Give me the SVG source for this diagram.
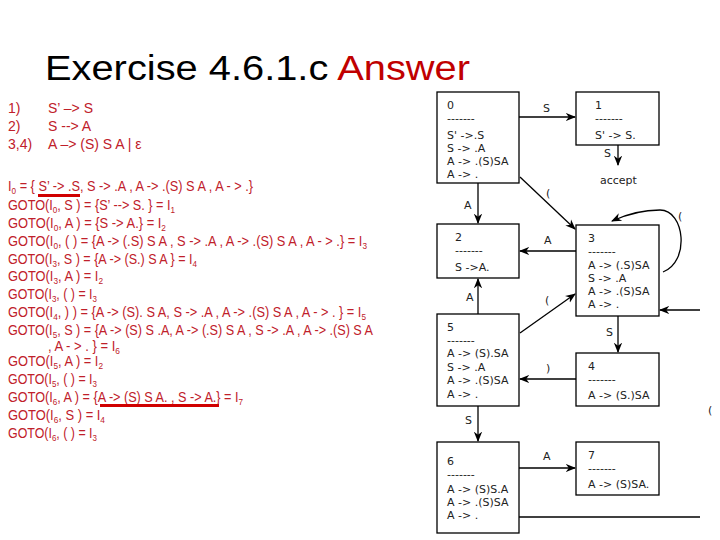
<svg xmlns="http://www.w3.org/2000/svg" width="720" height="540" viewBox="0 0 720 540">
<style>
.t{font-family:"Liberation Sans",Arial,sans-serif;font-size:14px;fill:#c0202a}
.s{font-size:9px}
.b{fill:#fff;stroke:#000;stroke-width:1.3}
.n{font-family:"DejaVu Sans",sans-serif;font-size:11px;fill:#222}
.c line,.c path{stroke:#000;stroke-width:1.3;fill:none}
</style>
<defs><marker id="a" viewBox="0 0 10 10" refX="9" refY="5" markerWidth="8" markerHeight="8" orient="auto"><path d="M0,1 L10,5 L0,9 L3,5z" fill="#000"/></marker></defs>
<rect width="720" height="540" fill="#fff"/>
<text x="45" y="80" font-family="Liberation Sans,Arial,sans-serif" font-size="35" fill="#000" textLength="425" lengthAdjust="spacingAndGlyphs">Exercise 4.6.1.c <tspan fill="#c00000">Answer</tspan></text>
<g class="t">
<text x="8" y="113">1)</text><text x="48" y="113">S’ –&gt; S</text>
<text x="8" y="131">2)</text><text x="48" y="131">S --&gt; A</text>
<text x="8" y="149">3,4)</text><text x="48" y="149">A –&gt; (S) S A | ε</text>
<text x="8" y="191" textLength="245" lengthAdjust="spacingAndGlyphs">I<tspan class="s" dy="3">0</tspan><tspan dy="-3"> = { S’ -&gt; .S, S -&gt; .A , A -&gt; .(S) S A , A - &gt; .}</tspan></text>
<text x="8" y="210" textLength="167" lengthAdjust="spacingAndGlyphs">GOTO(I<tspan class="s" dy="3">0</tspan><tspan dy="-3">, S ) = {S’ --&gt; S. } = I</tspan><tspan class="s" dy="3">1</tspan></text>
<text x="8" y="228" textLength="158" lengthAdjust="spacingAndGlyphs">GOTO(I<tspan class="s" dy="3">0</tspan><tspan dy="-3">, A ) = {S -&gt; A.} = I</tspan><tspan class="s" dy="3">2</tspan></text>
<text x="8" y="246" textLength="359" lengthAdjust="spacingAndGlyphs">GOTO(I<tspan class="s" dy="3">0</tspan><tspan dy="-3">, ( ) = {A -&gt; (.S) S A , S -&gt; .A , A -&gt; .(S) S A , A - &gt; .} = I</tspan><tspan class="s" dy="3">3</tspan></text>
<text x="8" y="264" textLength="189" lengthAdjust="spacingAndGlyphs">GOTO(I<tspan class="s" dy="3">3</tspan><tspan dy="-3">, S ) = {A -&gt; (S.) S A } = I</tspan><tspan class="s" dy="3">4</tspan></text>
<text x="8" y="281" textLength="95" lengthAdjust="spacingAndGlyphs">GOTO(I<tspan class="s" dy="3">3</tspan><tspan dy="-3">, A ) = I</tspan><tspan class="s" dy="3">2</tspan></text>
<text x="8" y="299" textLength="89" lengthAdjust="spacingAndGlyphs">GOTO(I<tspan class="s" dy="3">3</tspan><tspan dy="-3">, ( ) = I</tspan><tspan class="s" dy="3">3</tspan></text>
<text x="8" y="317" textLength="358" lengthAdjust="spacingAndGlyphs">GOTO(I<tspan class="s" dy="3">4</tspan><tspan dy="-3">, ) ) = {A -&gt; (S). S A, S -&gt; .A , A -&gt; .(S) S A , A - &gt; . } = I</tspan><tspan class="s" dy="3">5</tspan></text>
<text x="8" y="335" textLength="365" lengthAdjust="spacingAndGlyphs">GOTO(I<tspan class="s" dy="3">5</tspan><tspan dy="-3">, S ) = {A -&gt; (S) S .A, A -&gt; (.S) S A , S -&gt; .A , A -&gt; .(S) S A</tspan></text>
<text x="48" y="351" textLength="72" lengthAdjust="spacingAndGlyphs">, A - &gt; . } = I<tspan class="s" dy="3">6</tspan></text>
<text x="8" y="366" textLength="95" lengthAdjust="spacingAndGlyphs">GOTO(I<tspan class="s" dy="3">5</tspan><tspan dy="-3">, A ) = I</tspan><tspan class="s" dy="3">2</tspan></text>
<text x="8" y="384" textLength="89" lengthAdjust="spacingAndGlyphs">GOTO(I<tspan class="s" dy="3">5</tspan><tspan dy="-3">, ( ) = I</tspan><tspan class="s" dy="3">3</tspan></text>
<text x="8" y="402" textLength="235" lengthAdjust="spacingAndGlyphs">GOTO(I<tspan class="s" dy="3">6</tspan><tspan dy="-3">, A ) = {A -&gt; (S) S A. , S -&gt; A.} = I</tspan><tspan class="s" dy="3">7</tspan></text>
<text x="8" y="420" textLength="97" lengthAdjust="spacingAndGlyphs">GOTO(I<tspan class="s" dy="3">6</tspan><tspan dy="-3">, S ) =  I</tspan><tspan class="s" dy="3">4</tspan></text>
<text x="8" y="438" textLength="89" lengthAdjust="spacingAndGlyphs">GOTO(I<tspan class="s" dy="3">6</tspan><tspan dy="-3">, ( ) = I</tspan><tspan class="s" dy="3">3</tspan></text>
</g>
<rect x="38" y="194" width="42" height="3" fill="#d00000"/>
<rect x="100" y="404" width="119" height="3" fill="#d00000"/>
<g id="n0"><rect class="b" x="437" y="92" width="82" height="91"/><text class="n" x="447" y="109">0</text><text class="n" x="447" y="122">-------</text><text class="n" x="447" y="139">S' -&gt;.S</text><text class="n" x="447" y="152">S -&gt;  .A</text><text class="n" x="447" y="165">A -&gt;  .(S)SA</text><text class="n" x="447" y="178">A -&gt;  .</text></g>
<g id="n1"><rect class="b" x="576" y="92" width="83" height="53"/><text class="n" x="595" y="109">1</text><text class="n" x="595" y="122">-------</text><text class="n" x="595" y="139">S' -&gt; S.</text></g>
<g id="n2"><rect class="b" x="437" y="224" width="82" height="54"/><text class="n" x="455" y="241">2</text><text class="n" x="455" y="254">-------</text><text class="n" x="455" y="271">S -&gt;A.</text></g>
<g id="n3"><rect class="b" x="576" y="225" width="83" height="91"/><text class="n" x="588" y="242">3</text><text class="n" x="588" y="255">-------</text><text class="n" x="588" y="269">A -&gt; (.S)SA</text><text class="n" x="588" y="282">S -&gt; .A</text><text class="n" x="588" y="295">A -&gt; .(S)SA</text><text class="n" x="588" y="308">A -&gt; .</text></g>
<g id="n4"><rect class="b" x="576" y="353" width="83" height="53"/><text class="n" x="588" y="370">4</text><text class="n" x="588" y="383">-------</text><text class="n" x="588" y="399">A -&gt; (S.)SA</text></g>
<g id="n5"><rect class="b" x="437" y="314" width="82" height="92"/><text class="n" x="447" y="331">5</text><text class="n" x="447" y="344" fill="#bbb">-------</text><text class="n" x="447" y="357">A -&gt; (S).SA</text><text class="n" x="447" y="371">S -&gt; .A</text><text class="n" x="447" y="384">A -&gt; .(S)SA</text><text class="n" x="447" y="398">A -&gt; .</text></g>
<g id="n6"><rect class="b" x="437" y="442" width="82" height="91"/><text class="n" x="447" y="465">6</text><text class="n" x="447" y="478">-------</text><text class="n" x="447" y="493">A -&gt; (S)S.A</text><text class="n" x="447" y="506">A -&gt; .(S)SA</text><text class="n" x="447" y="519">A -&gt; .</text></g>
<g id="n7"><rect class="b" x="576" y="442" width="83" height="53"/><text class="n" x="588" y="459">7</text><text class="n" x="588" y="472">-------</text><text class="n" x="588" y="488">A -&gt; (S)SA.</text></g>
<text class="n" x="600" y="184">accept</text>
<g class="c" id="connectors">
<line x1="519" y1="117" x2="575" y2="117" marker-end="url(#a)"/>
<line x1="618" y1="145" x2="618" y2="165" marker-end="url(#a)"/>
<line x1="478" y1="183" x2="478" y2="223" marker-end="url(#a)"/>
<line x1="520" y1="177" x2="575" y2="229" marker-end="url(#a)"/>
<path d="M663,272 C690,262 685,210 660,210 C640,210 625,215 612,221" marker-end="url(#a)"/>
<line x1="576" y1="251" x2="520" y2="251" marker-end="url(#a)"/>
<line x1="478" y1="314" x2="478" y2="279" marker-end="url(#a)"/>
<line x1="520" y1="333" x2="575" y2="294" marker-end="url(#a)"/>
<line x1="700" y1="310" x2="660" y2="310" marker-end="url(#a)"/>
<line x1="618" y1="316" x2="618" y2="352" marker-end="url(#a)"/>
<line x1="576" y1="379" x2="520" y2="379" marker-end="url(#a)"/>
<line x1="478" y1="406" x2="478" y2="441" marker-end="url(#a)"/>
<line x1="519" y1="468" x2="575" y2="468" marker-end="url(#a)"/>
<line x1="519" y1="517" x2="700" y2="517"/>
</g>
<g class="n">
<text x="543" y="112">S</text><text x="604" y="157">S</text><text x="464" y="209">A</text><text x="546" y="197">(</text>
<text x="678" y="220">(</text><text x="544" y="244">A</text><text x="466" y="301">A</text><text x="545" y="304">(</text>
<text x="606" y="336">S</text><text x="546" y="372">)</text><text x="465" y="424">S</text><text x="543" y="460">A</text><text x="708" y="414">(</text>
</g>
</svg>
